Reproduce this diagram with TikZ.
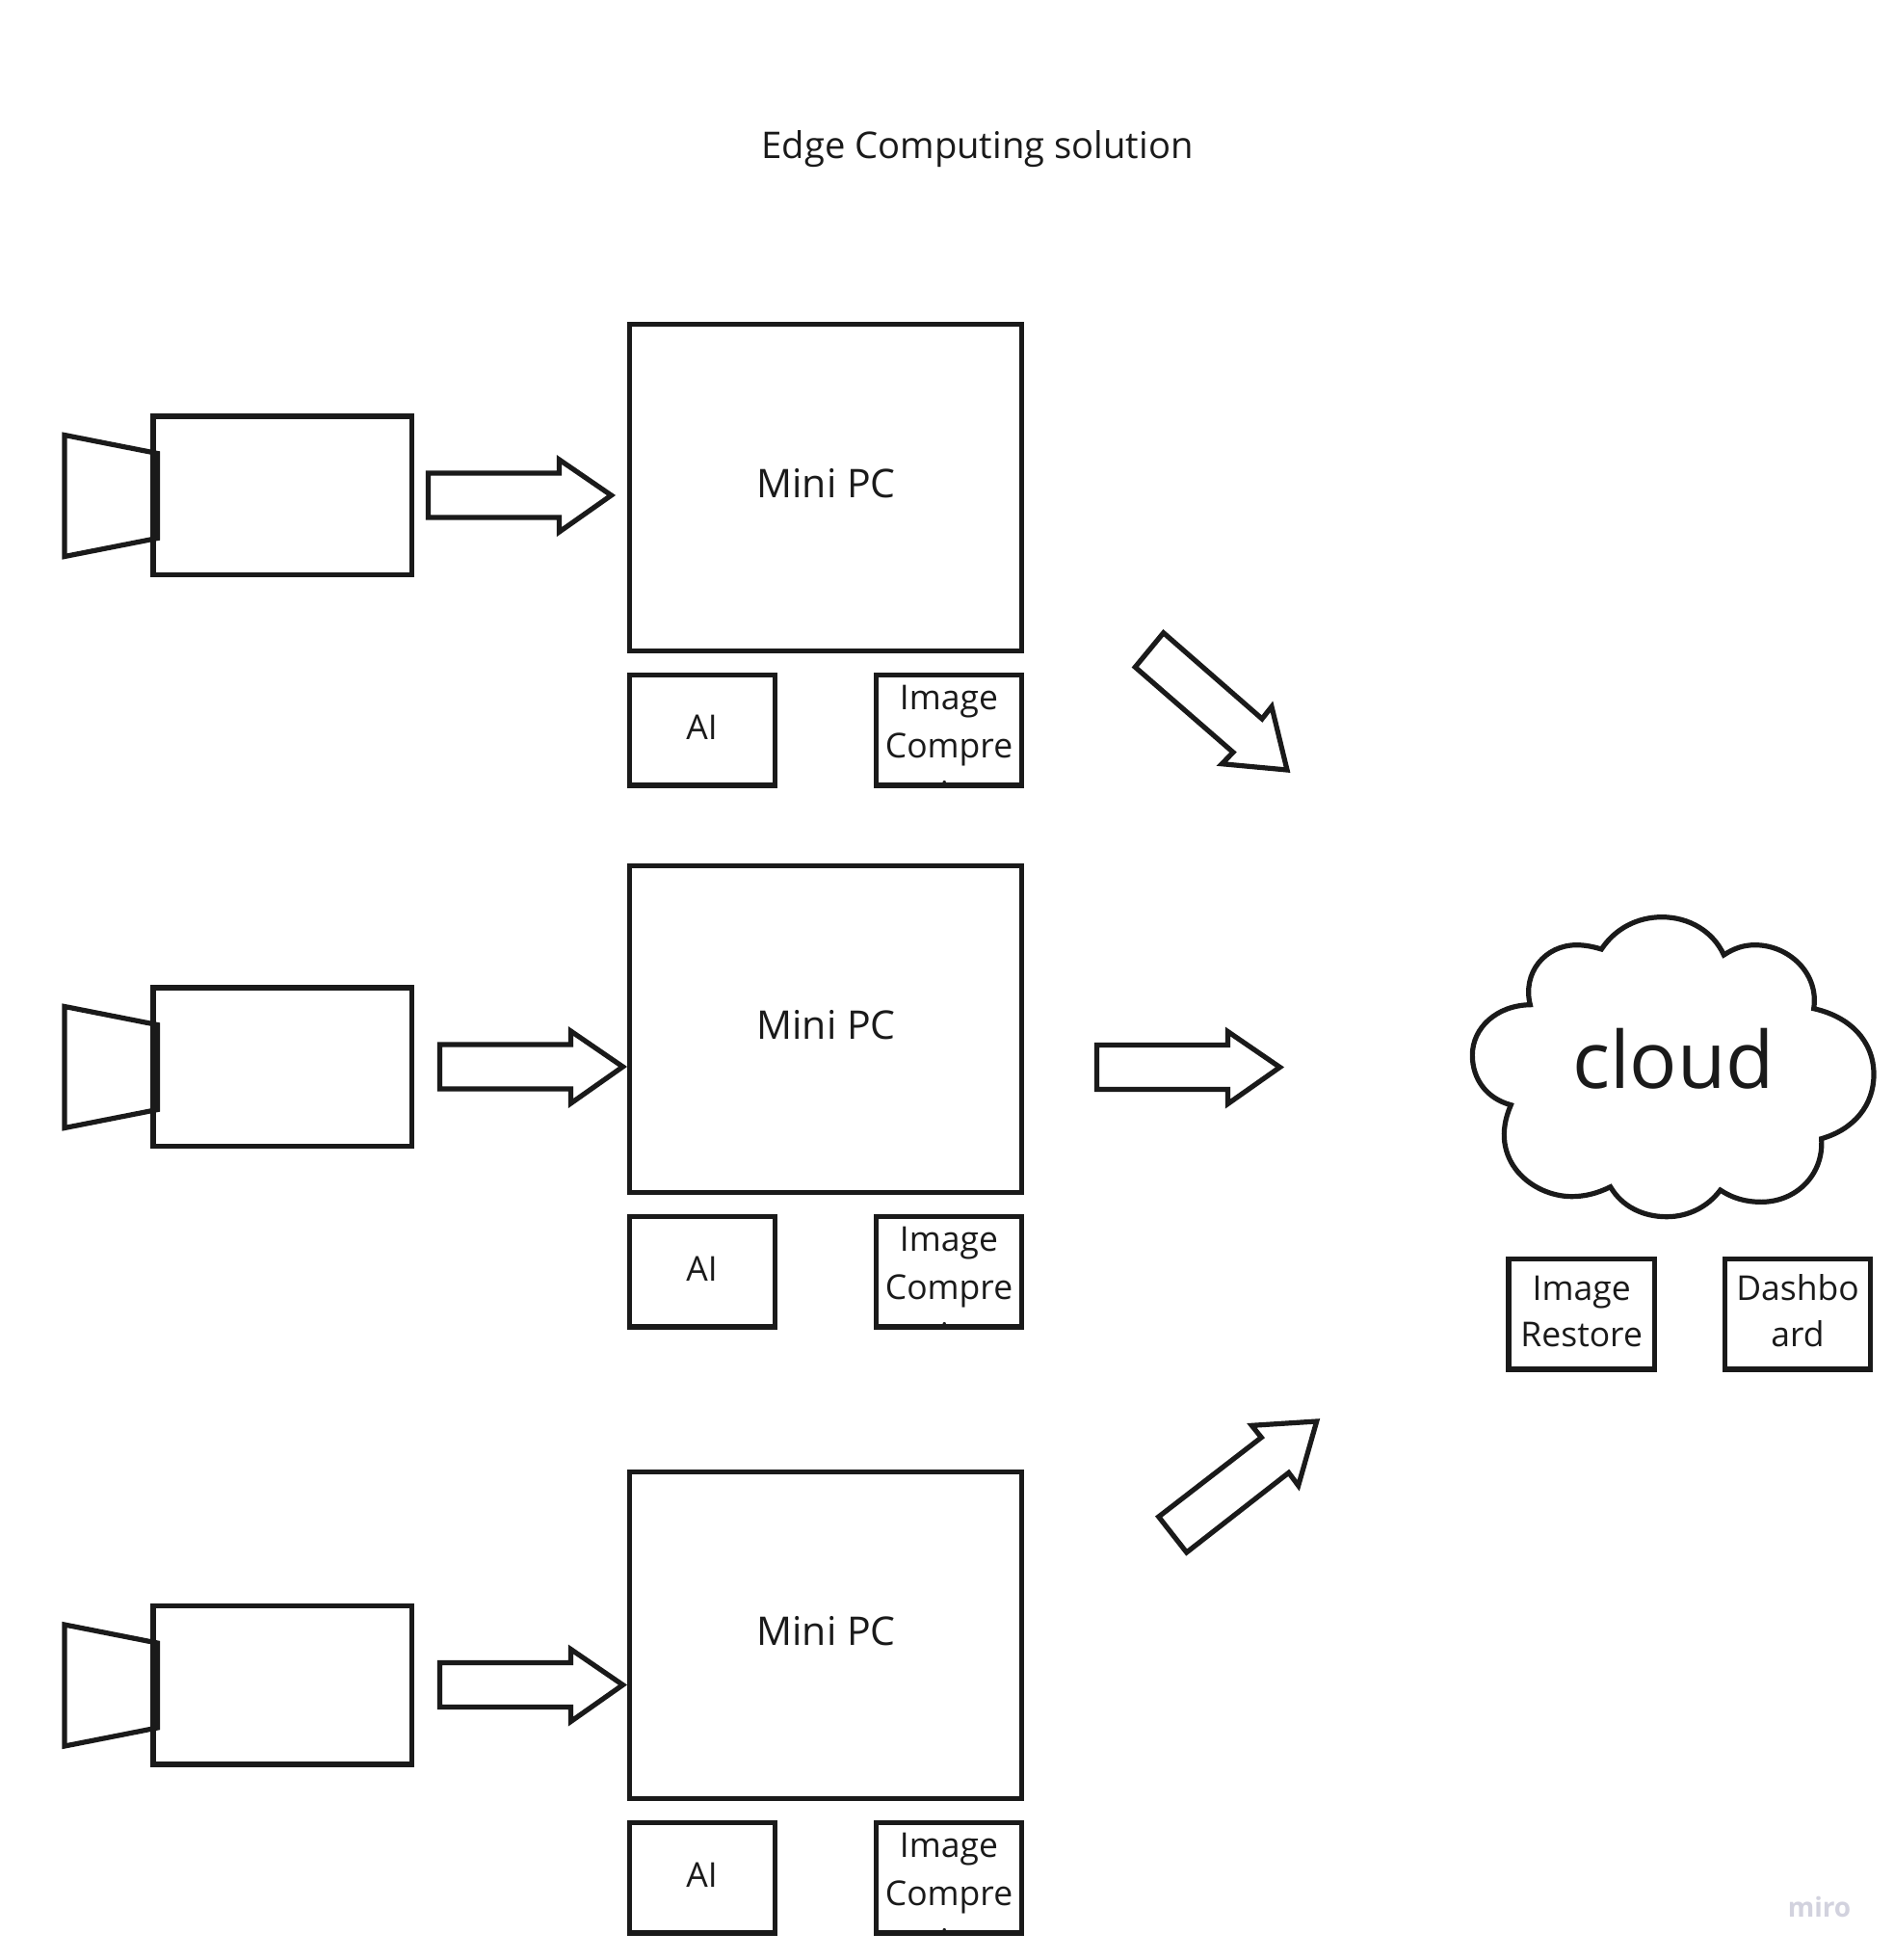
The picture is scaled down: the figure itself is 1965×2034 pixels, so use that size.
\documentclass[tikz,border=0pt]{standalone}
\usepackage{fontspec}
\setmainfont{Open Sans}
\definecolor{ink}{HTML}{1A1A1A}
\definecolor{wm}{HTML}{D2D2DE}
\tikzset{
  x=0.5pt,y=-0.5pt,
  outline/.style={draw=ink,line width=2.6pt,miter limit=10,line join=miter},
  boxshape/.style={outline,rectangle,inner sep=0pt,outer sep=0pt,anchor=north west},
  txt/.style={text=ink,inner sep=0pt,outer sep=0pt,anchor=base},
  titletxt/.style={txt,font=\fontsize{19.1}{23}\selectfont},
  pctxt/.style={txt,font=\fontsize{20.5}{24}\selectfont},
  smalltxt/.style={txt,font=\fontsize{17.75}{21}\selectfont},
  cloudtxt/.style={txt,font=\fontsize{41}{47}\selectfont},
}
\newcommand{\pxbox}[5]{\node[boxshape,minimum width={((#4)-(#2))*0.5pt},minimum height={((#5)-(#3))*0.5pt}] (#1) at (#2,#3) {};}
% block arrow pointing right, body start x, mid y
\newcommand{\blockarrow}[2]{\draw[outline] (#1,#2-23) -- (#1+136,#2-23) -- (#1+136,#2-37) -- (#1+190,#2) -- (#1+136,#2+38) -- (#1+136,#2+23) -- (#1,#2+23) -- cycle;}
\begin{document}
\begin{tikzpicture}
\useasboundingbox[fill=white] (0,0) rectangle (1965,2034);
\node[titletxt] (title) at (1014.5,164) {Edge Computing solution};

\foreach \i/\cy/\py/\ax in {1/0/0/444.5,2/593/562/456.5,3/1234.5/1191/456.5}{
  % camera
  \pxbox{cam\i}{159}{432+\cy}{427.5}{596.5+\cy}
  \draw[outline] (67,451.5+\cy) -- (163.5,470.5+\cy) -- (163.5,558.5+\cy) -- (67,577.5+\cy) -- cycle;
  \blockarrow{\ax}{514+\cy}
  % mini pc
  \pxbox{pc\i}{653.5}{336.5+\py}{1060.5}{675.5+\py}
  \node[pctxt] (pclabel\i) at (857.5,516.5+\py) {Mini PC};
  % AI
  \pxbox{ai\i}{653.5}{700.5+\py}{804.5}{815+\py}
  \node[smalltxt] (ailabel\i) at (728.6,767.3+\py) {AI};
  % Image compression, text runs out of the box
  \begin{scope}
    \clip (909,700+\py) rectangle (1061,815+\py);
    \node[smalltxt] (iml\i) at (985,736.7+\py) {Image};
    \node[smalltxt] (cpl\i) at (985,786+\py) {Compre};
    \node[smalltxt] (ssl\i) at (985,836.5+\py) {ssion};
  \end{scope}
  \pxbox{img\i}{909.5}{700.5+\py}{1060.5}{815+\py}
}

\blockarrow{1138.5}{1107.5}
\draw[outline] (1207.7,656.7) -- (1178.3,692.3) -- (1280,780.7) -- (1268.3,792.7) -- (1336,799) -- (1320,733.3) -- (1310,746) -- cycle;
\draw[outline] (1202.7,1574) -- (1231.7,1611) -- (1337.7,1528.3) -- (1347.7,1541.7) -- (1366.7,1475) -- (1299.3,1479.3) -- (1309.3,1491.7) -- cycle;

% cloud
\begin{scope}[shift={(1500,930)},x=0.16667pt,y=-0.16667pt]
\draw[outline]
 (487,165)
 .. controls (530,100) and (600,65) .. (675,65)
 .. controls (760,65) and (835,110) .. (868,183)
 .. controls (900,162) and (930,152) .. (965,152)
 .. controls (1070,152) and (1165,240) .. (1148,350)
 .. controls (1260,375) and (1335,450) .. (1335,555)
 .. controls (1335,650) and (1275,725) .. (1172,755)
 .. controls (1180,870) and (1090,952) .. (985,952)
 .. controls (935,952) and (895,940) .. (857,915)
 .. controls (820,965) and (760,998) .. (690,998)
 .. controls (615,998) and (550,965) .. (515,905)
 .. controls (475,925) and (435,935) .. (395,935)
 .. controls (270,935) and (130,820) .. (205,650)
 .. controls (130,630) and (85,570) .. (85,495)
 .. controls (85,410) and (160,340) .. (265,338)
 .. controls (240,240) and (310,152) .. (410,152)
 .. controls (435,152) and (460,157) .. (487,165)
 -- cycle;
\end{scope}
\node[cloudtxt] (cloudlabel) at (1737,1129) {cloud};

\pxbox{restore}{1566}{1306.5}{1717.5}{1421}
\node[smalltxt] (rs1) at (1641.7,1349) {Image};
\node[smalltxt] (rs2) at (1641.7,1397.7) {Restore};
\pxbox{dash}{1790.5}{1306.5}{1941.5}{1421}
\node[smalltxt] (ds1) at (1866,1349) {Dashbo};
\node[smalltxt] (ds2) at (1866,1397.7) {ard};

\node[txt,text=wm,font=\fontsize{14}{16}\selectfont\bfseries] (miro) at (1888.5,1989) {miro};
\end{tikzpicture}
\end{document}
